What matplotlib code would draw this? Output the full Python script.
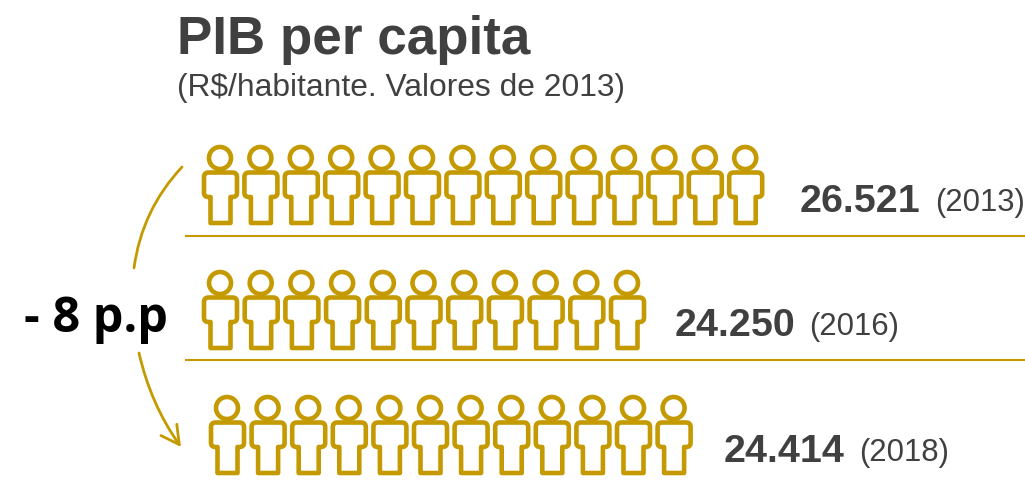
import matplotlib
matplotlib.use('Agg')
import matplotlib.pyplot as plt
from matplotlib.path import Path
from matplotlib.patches import Circle, PathPatch, FancyArrowPatch
from matplotlib.transforms import Affine2D

years = ['2013', '2016', '2018']
values = ['26.521', '24.250', '24.414']
icon_counts = [14, 11, 12]

GOLD = '#C49A00'
GREY = '#404040'

# where each row goes, in pixels of the 1025x480 picture
first_head_x = [220, 220, 227]
head_y = [158, 283, 408]
icon_step = [40.4, 40.7, 40.6]
label_x = [800, 675, 724]
year_x = [935, 809, 859]
label_y = [202, 326, 452]
rule_y = [236, 360]
rule_x0 = 186

fig = plt.figure(figsize=(10.25, 4.8), dpi=100)
ax = fig.add_axes([0, 0, 1, 1])
ax.set_xlim(0, 1025)
ax.set_ylim(480, 0)
ax.axis('off')


def body_path():
    # outline of the body, relative to the head centre
    v = [(-12, 14.5), (12, 14.5), (16.5, 14.5), (16.5, 19), (16.5, 35),
         (16.5, 39), (12, 39), (10, 39), (10, 40), (10, 65), (-10, 65),
         (-10, 40), (-10, 39), (-12, 39), (-16.5, 39), (-16.5, 35),
         (-16.5, 19), (-16.5, 14.5), (-12, 14.5), (-12, 14.5)]
    c = [Path.MOVETO, Path.LINETO, Path.CURVE3, Path.CURVE3, Path.LINETO,
         Path.CURVE3, Path.CURVE3, Path.LINETO, Path.LINETO, Path.LINETO,
         Path.LINETO, Path.LINETO, Path.LINETO, Path.LINETO, Path.CURVE3,
         Path.CURVE3, Path.LINETO, Path.CURVE3, Path.CURVE3, Path.CLOSEPOLY]
    return Path(v, c)


body = body_path()
for r in range(len(years)):
    for i in range(icon_counts[r]):
        cx = first_head_x[r] + i * icon_step[r]
        cy = head_y[r]
        ax.add_patch(Circle((cx, cy), 11, fill=False, ec=GOLD, lw=3.3))
        ax.add_patch(PathPatch(body, fill=False, ec=GOLD, lw=3.3, joinstyle='round',
                               transform=Affine2D().translate(cx + 0.5, cy) + ax.transData))
    ax.text(label_x[r], label_y[r], values[r], family='Liberation Sans', weight='bold',
            fontsize=28.4, color=GREY, ha='left', va='center')
    ax.text(year_x[r], label_y[r] + 1, '(' + years[r] + ')', family='Liberation Sans',
            fontsize=22.4, color=GREY, ha='left', va='center')

for y in rule_y:
    ax.plot([rule_x0, 1025], [y, y], color=GOLD, lw=1.5)

ax.text(177, 40, 'PIB per capita', family='Liberation Sans', weight='bold',
        fontsize=38.2, color=GREY, ha='left', va='center')
ax.text(177, 88, '(R$/habitante. Valores de 2013)', family='Liberation Sans',
        fontsize=22.9, color=GREY, ha='left', va='center')
ax.text(24, 319, '- 8 p.p', family='Open Sans', weight='bold', fontsize=35,
        color='black', ha='left', va='center')

ax.add_patch(FancyArrowPatch((182, 167), (134, 268), connectionstyle='arc3,rad=0.16',
                             arrowstyle='-', color=GOLD, lw=2, shrinkA=0, shrinkB=0))
ax.add_patch(FancyArrowPatch((139, 353), (181, 447), connectionstyle='arc3,rad=0.1',
                             arrowstyle='->,head_length=13,head_width=7', color=GOLD, lw=2,
                             shrinkA=0, shrinkB=0))

fig.savefig('out.png', dpi=100)
